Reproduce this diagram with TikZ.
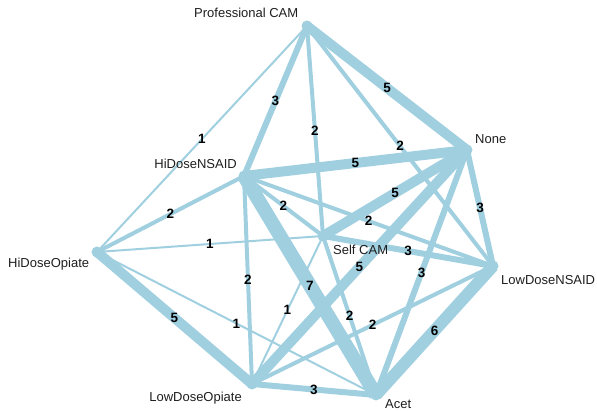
\documentclass[tikz,border=0pt]{standalone}
\usepackage{fontspec}
\setmainfont{Liberation Sans}
\definecolor{edgec}{RGB}{160,207,224}
\definecolor{txt}{RGB}{30,30,30}
\pgfdeclarelayer{bg}
\pgfsetlayers{bg,main}
\tikzset{
 vtx/.style={circle, fill=edgec, inner sep=0pt, minimum size=11pt},
 lab/.style={text=txt, font=\fontsize{13}{15}\selectfont, inner sep=0pt},
 wlab/.style={font=\fontsize{13.5}{15}\selectfont\bfseries, inner sep=0pt, text=black},
}
\begin{document}
\begin{tikzpicture}[x=1pt,y=-1pt]
\useasboundingbox (0,0) rectangle (597,411);
\node[vtx] (pc) at (307,26) {};
\node[vtx] (no) at (467,150) {};
\node[vtx] (hn) at (244,176) {};
\node[vtx] (ho) at (97,252) {};
\node[vtx] (sc) at (323,236) {};
\node[vtx] (ln) at (493,266) {};
\node[vtx] (lo) at (252,384) {};
\node[vtx] (ac) at (376,395) {};
\begin{pgfonlayer}{bg}
\foreach \a/\b/\w in {pc/no/5, pc/hn/3, pc/sc/2, pc/ho/1, pc/ln/2, hn/no/5, no/ln/3, hn/ho/2, hn/sc/2, no/sc/5, hn/ln/2, ho/sc/1, sc/ln/3, no/lo/5, no/ac/3, hn/lo/2, hn/ac/7, ho/lo/5, ho/ac/1, sc/lo/1, sc/ac/2, ln/lo/2, ln/ac/6, lo/ac/3}
  \draw[edgec, line width={2*\w pt}] (\a.center) -- (\b.center);
\end{pgfonlayer}
\foreach \a/\b/\w in {pc/no/5, pc/hn/3, pc/sc/2, pc/ho/1, pc/ln/2, hn/no/5, no/ln/3, hn/ho/2, hn/sc/2, no/sc/5, hn/ln/2, ho/sc/1, sc/ln/3, no/lo/5, no/ac/3, hn/lo/2, hn/ac/7, ho/lo/5, ho/ac/1, sc/lo/1, sc/ac/2, ln/lo/2, ln/ac/6, lo/ac/3}
  \path (\a.center) -- node[wlab] {\w} (\b.center);
\node[lab, anchor=base west] (tpc) at (194,18) {Professional CAM};
\node[lab, anchor=base west] (tno) at (475,144) {None};
\node[lab, anchor=base east] (thn) at (237,169) {HiDoseNSAID};
\node[lab, anchor=base west] (tho) at (8,268) {HiDoseOpiate};
\node[lab, anchor=base west] (tsc) at (333,255) {Self CAM};
\node[lab, anchor=base west] (tln) at (501,285) {LowDoseNSAID};
\node[lab, anchor=base east] (tlo) at (242,402) {LowDoseOpiate};
\node[lab, anchor=base west] (tac) at (385,408) {Acet};
\end{tikzpicture}
\end{document}
